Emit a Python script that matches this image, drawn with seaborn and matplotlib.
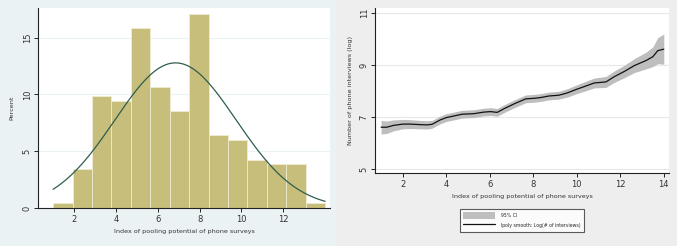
import numpy as np
import pandas as pd
import matplotlib
matplotlib.use("Agg")
import matplotlib.pyplot as plt
import seaborn as sns
from matplotlib.patches import Rectangle

# ---------------- data ----------------
# Left: histogram of pooling-potential index (percent per bin)
bin_edges = [1.0, 1.929, 2.857, 3.786, 4.714, 5.643, 6.571, 7.5, 8.429,
             9.357, 10.286, 11.214, 12.143, 13.071, 14.0]
bin_percent = [0.43, 3.42, 9.83, 9.40, 15.81, 10.68, 8.55, 17.09, 6.41,
               5.98, 4.27, 3.85, 3.85, 0.43]
normal_mean = 6.85
normal_sd = 2.9

# Right: local polynomial smooth with 95% CI
smooth_x = [1.0, 1.26, 1.57, 2.0, 2.34, 2.8, 3.1, 3.34, 3.72, 4.0, 4.34, 4.72,
            5.26, 5.72, 6.03, 6.34, 6.65, 7.1, 7.65, 8.03, 8.34, 8.72, 9.18,
            9.57, 10.0, 10.34, 10.8, 11.34, 11.72, 12.18, 12.65, 13.18, 13.5,
            13.72, 14.0]
smooth_y = [6.62, 6.62, 6.69, 6.74, 6.74, 6.72, 6.71, 6.73, 6.90, 6.99, 7.05,
            7.12, 7.14, 7.20, 7.22, 7.19, 7.33, 7.51, 7.71, 7.73, 7.76, 7.82,
            7.85, 7.94, 8.08, 8.18, 8.32, 8.36, 8.56, 8.76, 8.99, 9.18, 9.33,
            9.56, 9.62]
ci_half = [0.26, 0.24, 0.21, 0.18, 0.17, 0.16, 0.16, 0.15, 0.15, 0.15, 0.15,
           0.15, 0.15, 0.15, 0.15, 0.15, 0.15, 0.15, 0.15, 0.15, 0.15, 0.15,
           0.15, 0.16, 0.17, 0.18, 0.19, 0.21, 0.22, 0.24, 0.27, 0.32, 0.38,
           0.50, 0.58]

left_xticks = [2, 4, 6, 8, 10, 12]
left_yticks = [0, 5, 10, 15]
right_xticks = [2, 4, 6, 8, 10, 12, 14]
right_yticks = [5, 7, 9, 11]

left_xlabel = "Index of pooling potential of phone surveys"
left_ylabel = "Percent"
right_xlabel = "Index of pooling potential of phone surveys"
right_ylabel = "Number of phone interviews (log)"
legend_ci = "95% CI"
legend_line = "lpoly smooth: Log(# of interviews)"

# ---------------- figure ----------------
sns.set_theme(style="white")
plt.rcParams['font.family'] = ['DejaVu Sans']
W, H = 677, 246
fig = plt.figure(figsize=(W / 100, H / 100), dpi=100)

fig.patches.append(Rectangle((0, 0), 336 / W, 1, transform=fig.transFigure,
                             facecolor="#EAF2F3", edgecolor="none", zorder=-10))
fig.patches.append(Rectangle((336 / W, 0), 1 - 336 / W, 1, transform=fig.transFigure,
                             facecolor="#EEEEEE", edgecolor="none", zorder=-10))

LABEL_FS = 4.6
TICK_FS = 6.0

def style_axes(ax, grid_color, yticks):
    for s in ["top", "right"]:
        ax.spines[s].set_visible(False)
    for s in ["left", "bottom"]:
        ax.spines[s].set_color("#222222")
        ax.spines[s].set_linewidth(0.8)
    ax.tick_params(axis="both", which="both", direction="out", length=3,
                   width=0.7, color="#222222", labelsize=TICK_FS, pad=1.5,
                   labelcolor="#333333", bottom=True, left=True)
    ax.set_yticks(yticks)
    ax.set_yticklabels([str(t) for t in yticks], rotation=90, va="center",
                       fontsize=TICK_FS, color="#333333")
    ax.yaxis.grid(True, color=grid_color, linewidth=0.8)
    ax.set_axisbelow(True)

# ---- left histogram ----
ax1 = fig.add_axes([38 / W, (H - 208.3) / H, (330 - 38) / W, (208.3 - 8) / H])
ax1.set_facecolor("white")
centers = [(a + b) / 2 for a, b in zip(bin_edges[:-1], bin_edges[1:])]
hist_df = pd.DataFrame({"x": centers, "pct": bin_percent})
sns.histplot(data=hist_df, x="x", weights="pct", bins=bin_edges, ax=ax1,
             color="#C8BE7C", alpha=1.0, edgecolor="#EFEBD2", linewidth=0.6)
xs = np.linspace(bin_edges[0], bin_edges[-1], 200)
bw = bin_edges[1] - bin_edges[0]
dens = 100 * bw * np.exp(-0.5 * ((xs - normal_mean) / normal_sd) ** 2) / (normal_sd * np.sqrt(2 * np.pi))
sns.lineplot(x=xs, y=dens, ax=ax1, color="#2E5E4E", linewidth=0.9)
ax1.set_xlim(0.28, 14.23)
ax1.set_ylim(0, 17.6)
ax1.set_xticks(left_xticks)
ax1.set_xlabel(left_xlabel, fontsize=LABEL_FS, color="#333333", labelpad=4)
ax1.set_ylabel(left_ylabel, fontsize=LABEL_FS, color="#333333", labelpad=6)
style_axes(ax1, "#EAF2F3", left_yticks)

# ---- right smooth ----
ax2 = fig.add_axes([375 / W, (H - 173.3) / H, (669 - 375) / W, (173.3 - 8) / H])
ax2.set_facecolor("white")
sx = np.array(smooth_x)
sy = np.array(smooth_y)
ch = np.array(ci_half)
ax2.fill_between(sx, sy - ch, sy + ch, color="#BEBEBE", linewidth=0, label=legend_ci)
sns.lineplot(x=sx, y=sy, ax=ax2, color="#111111", linewidth=0.9, label=legend_line)
ax2.set_xlim(0.72, 14.24)
ax2.set_ylim(4.85, 11.2)
ax2.set_xticks(right_xticks)
ax2.set_xlabel(right_xlabel, fontsize=LABEL_FS, color="#333333", labelpad=4)
ax2.set_ylabel(right_ylabel, fontsize=LABEL_FS, color="#333333", labelpad=5)
style_axes(ax2, "#E8E8E8", right_yticks)
ax2.get_legend().remove()
h, l = ax2.get_legend_handles_labels()
leg = fig.legend(h, l, loc="center", bbox_to_anchor=(522 / W, 1 - 220.5 / H),
                 ncol=1, fontsize=3.3, frameon=True, fancybox=False,
                 handlelength=7, handleheight=2.0, borderpad=0.7,
                 labelspacing=0.5, handletextpad=1.2)
leg.get_frame().set_edgecolor("#333333")
leg.get_frame().set_linewidth(0.8)
leg.get_frame().set_facecolor("white")

fig.savefig("out.png", dpi=100)
